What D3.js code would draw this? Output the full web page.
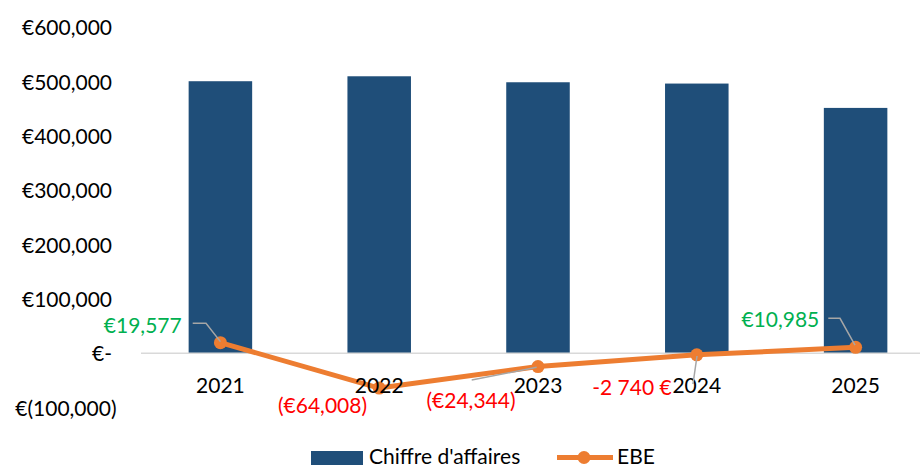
<!DOCTYPE html>
<html>
<head>
<meta charset="utf-8">
<script src="https://cdn.jsdelivr.net/npm/d3@7"></script>
<style>
  html, body { margin: 0; padding: 0; background: #fff; }
  svg { display: block; }
  text { font-family: Lato, "Noto Sans", sans-serif; }
</style>
</head>
<body>
<svg id="chart" width="923" height="468"></svg>
<script>
// ---- data ----
const years = ["2021", "2022", "2023", "2024", "2025"];
const chiffreAffaires = [500600, 509700, 498700, 496300, 451500];
const ebe = [19577, -64008, -24344, -2740, 10985];
const ebeLabels = ["€19,577", "(€64,008)", "(€24,344)", "-2 740 €", "€10,985"];
const ebeLabelColors = ["#00B050", "#FF0000", "#FF0000", "#FF0000", "#00B050"];
const yTicks = [-100000, 0, 100000, 200000, 300000, 400000, 500000, 600000];
const yTickLabels = ["€(100,000)", "€-", "€100,000", "€200,000", "€300,000", "€400,000", "€500,000", "€600,000"];
const legendNames = ["Chiffre d'affaires", "EBE"];

// ---- layout ----
const plotLeft = 141, plotRightBand = 935, plotRightAxis = 920;
const FS = 21;
const barColor = "#1F4E79", lineColor = "#ED7D31", leaderColor = "#A6A6A6";

const svg = d3.select("#chart");

const x = d3.scaleBand().domain(years).range([plotLeft, plotRightBand])
  .paddingInner(0.6).paddingOuter(0.3);
const y = d3.scaleLinear().domain([-100000, 600000]).range([407.65, 27.2]);
const cx = d => x(d) + x.bandwidth() / 2;

// bars
svg.append("g").selectAll("rect").data(years).join("rect")
  .attr("x", d => x(d))
  .attr("width", x.bandwidth())
  .attr("y", (d, i) => y(chiffreAffaires[i]))
  .attr("height", (d, i) => y(0) - y(chiffreAffaires[i]))
  .attr("fill", barColor);

// horizontal axis line at zero
svg.append("line")
  .attr("x1", plotLeft).attr("x2", plotRightAxis)
  .attr("y1", y(0)).attr("y2", y(0))
  .attr("stroke", "#D9D9D9").attr("stroke-width", 1.5);

// y axis labels
const yAxis = d3.axisLeft(y).tickValues(yTicks).tickSize(0).tickPadding(29)
  .tickFormat((d, i) => yTickLabels[i]);
const gy = svg.append("g").attr("transform", `translate(${plotLeft},0)`).call(yAxis);
gy.select(".domain").remove();
gy.selectAll("text")
  .attr("font-family", "Lato, 'Noto Sans', sans-serif")
  .attr("font-size", FS).attr("fill", "#000")
  .attr("dy", "0.36em")
  .attr("dx", d => d < 0 ? 4.5 : 0);

// x axis labels
const xAxis = d3.axisBottom(x).tickSize(0).tickPadding(0);
const gx = svg.append("g").attr("transform", `translate(0,${y(0)})`).call(xAxis);
gx.select(".domain").remove();
gx.selectAll("text")
  .attr("font-family", "Lato, 'Noto Sans', sans-serif")
  .attr("font-size", FS).attr("fill", "#000")
  .attr("dy", null).attr("y", 40);

// EBE line
const line = d3.line().x((d, i) => cx(years[i])).y(d => y(d));
svg.append("path").datum(ebe)
  .attr("d", line).attr("fill", "none")
  .attr("stroke", lineColor).attr("stroke-width", 5)
  .attr("stroke-linejoin", "round");
svg.append("g").selectAll("circle").data(ebe).join("circle")
  .attr("cx", (d, i) => cx(years[i])).attr("cy", d => y(d))
  .attr("r", 6.5).attr("fill", lineColor);

// data label placement (offsets relative to the point)
const labelPlacement = [
  { dx: -38.7, dy: -9.4, anchor: "end",    leader: [[-27.7, -19.4], [-14.4, -19.4], [0, -1]] },
  { dx: -56.7, dy: 25.2, anchor: "middle", leader: null },
  { dx: -67,   dy: 41.8, anchor: "middle", leader: [[-66.3, 13.5], [-1.3, 0.8]] },
  { dx: -25.1, dy: 40.2, anchor: "end",    leader: [[0.2, 1.2], [-3.8, 29.2]] },
  { dx: -36.3, dy: -20.6, anchor: "end",   leader: [[-27.3, -29], [-15.6, -29], [-0.6, -2.3]] }
];

gx.raise();

const lbl = svg.append("g");
ebe.forEach((v, i) => {
  const px = cx(years[i]), py = y(v), p = labelPlacement[i];
  if (p.leader) {
    lbl.append("path")
      .attr("d", d3.line()(p.leader.map(q => [px + q[0], py + q[1]])))
      .attr("fill", "none").attr("stroke", leaderColor).attr("stroke-width", 1.5);
  }
  lbl.append("text")
    .attr("x", px + p.dx).attr("y", py + p.dy)
    .attr("text-anchor", p.anchor)
    .attr("font-size", FS).attr("fill", ebeLabelColors[i])
    .text(ebeLabels[i]);
});

// legend
const lg = svg.append("g");
lg.append("rect").attr("x", 311).attr("y", 451).attr("width", 52).attr("height", 14).attr("fill", barColor);
lg.append("text").attr("x", 369).attr("y", 463.5).attr("font-size", FS).attr("fill", "#000").text(legendNames[0]);
lg.append("line").attr("x1", 557).attr("x2", 613).attr("y1", 457.5).attr("y2", 457.5)
  .attr("stroke", lineColor).attr("stroke-width", 5);
lg.append("circle").attr("cx", 584).attr("cy", 457.5).attr("r", 6.5).attr("fill", lineColor);
lg.append("text").attr("x", 617).attr("y", 463.5).attr("font-size", FS).attr("fill", "#000").text(legendNames[1]);
</script>
</body>
</html>
